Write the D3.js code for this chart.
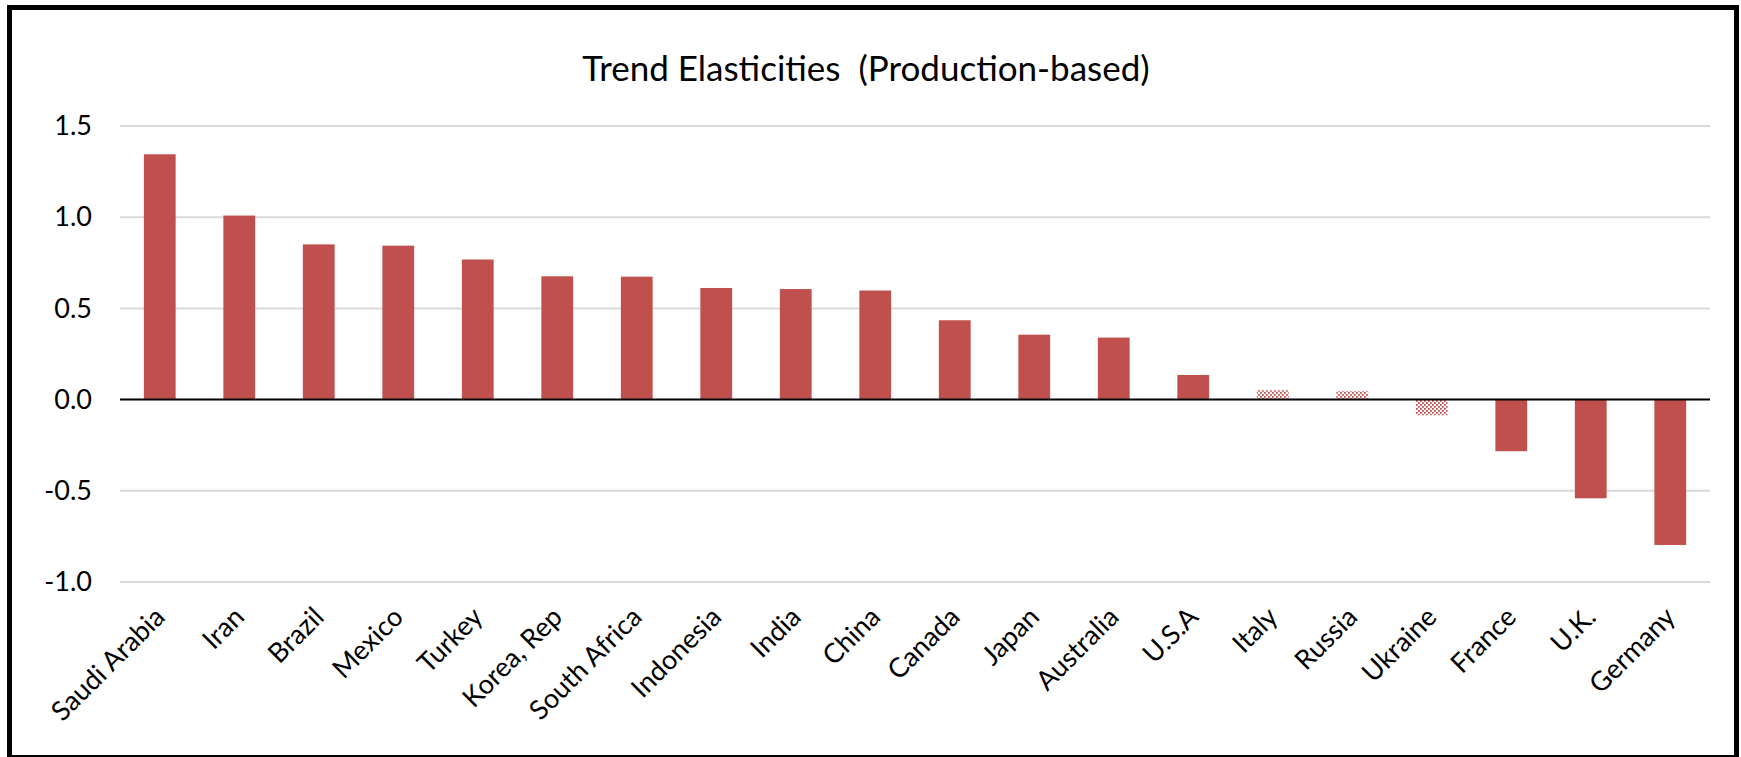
<!DOCTYPE html>
<html>
<head>
<meta charset="utf-8">
<script src="https://cdn.jsdelivr.net/npm/d3@7"></script>
<style>
  html, body { margin: 0; padding: 0; background: #fff; }
  svg { display: block; font-family: Lato, "Open Sans", sans-serif; }
</style>
</head>
<body>
<svg id="chart" width="1741" height="757"></svg>
<script>
// Trend elasticities by country (production-based)
const categories = ["Saudi Arabia", "Iran", "Brazil", "Mexico", "Turkey", "Korea, Rep",
  "South Africa", "Indonesia", "India", "China", "Canada", "Japan", "Australia",
  "U.S.A", "Italy", "Russia", "Ukraine", "France", "U.K.", "Germany"];
const values = [1.345, 1.009, 0.851, 0.844, 0.768, 0.676, 0.674, 0.612, 0.606, 0.598,
  0.435, 0.356, 0.340, 0.135, 0.051, 0.046, -0.086, -0.283, -0.541, -0.797];
// Countries whose estimate is drawn with a dotted fill
const dottedCountries = ["Italy", "Russia", "Ukraine"];
const yTicks = [-1.0, -0.5, 0.0, 0.5, 1.0, 1.5];
const titleText = "Trend Elasticities  (Production-based)";

const data = categories.map((c, i) => ({ country: c, value: values[i] }));

const svg = d3.select("#chart");
const W = 1741, H = 757;
const plot = { left: 120, right: 1710, top: 126, bottom: 582 };
const barColor = "#c0504d";

svg.append("rect").attr("width", W).attr("height", H).attr("fill", "#fff");

// dotted fill
const defs = svg.append("defs");
const pat = defs.append("pattern")
  .attr("id", "dots").attr("patternUnits", "userSpaceOnUse")
  .attr("width", 4).attr("height", 4);
pat.append("rect").attr("x", 0).attr("y", 0).attr("width", 1.8).attr("height", 1.8).attr("fill", barColor);
pat.append("rect").attr("x", 2).attr("y", 2).attr("width", 1.8).attr("height", 1.8).attr("fill", barColor);

const x = d3.scaleBand().domain(categories)
  .range([plot.left, plot.right]).paddingInner(0.6).paddingOuter(0.3);
const y = d3.scaleLinear().domain([-1.0, 1.5]).range([plot.bottom, plot.top]);

// gridlines
svg.append("g").selectAll("line").data(yTicks.filter(t => t !== 0)).join("line")
  .attr("x1", plot.left).attr("x2", plot.right)
  .attr("y1", d => y(d)).attr("y2", d => y(d))
  .attr("stroke", "#d9d9d9").attr("stroke-width", 2);

// y axis labels (plain hyphen for negatives)
const fmt = d3.formatLocale({ decimal: ".", thousands: ",", grouping: [3], currency: ["", ""], minus: "-" }).format(".1f");
const yAxis = d3.axisLeft(y).tickValues(yTicks).tickFormat(fmt).tickSize(0).tickPadding(0);
const gy = svg.append("g").attr("transform", `translate(92,0)`).call(yAxis);
gy.select(".domain").remove();
gy.selectAll("text").attr("font-size", 27).attr("fill", "#000")
  .attr("font-family", "Lato, sans-serif");

// bars
svg.append("g").selectAll("rect").data(data).join("rect")
  .attr("x", d => x(d.country))
  .attr("width", x.bandwidth())
  .attr("y", d => y(Math.max(0, d.value)))
  .attr("height", d => Math.abs(y(d.value) - y(0)))
  .attr("fill", d => dottedCountries.includes(d.country) ? "url(#dots)" : barColor);

// zero line
svg.append("line")
  .attr("x1", plot.left).attr("x2", plot.right)
  .attr("y1", y(0)).attr("y2", y(0))
  .attr("stroke", "#000").attr("stroke-width", 2);

// category labels
const xAxis = d3.axisBottom(x).tickSize(0).tickPadding(0);
const gx = svg.append("g").attr("transform", `translate(0,612)`).call(xAxis);
gx.select(".domain").remove();
gx.selectAll("text")
  .attr("font-size", 27).attr("fill", "#000").attr("font-family", "Lato, sans-serif")
  .attr("text-anchor", "end")
  .attr("y", 0).attr("dy", "0.35em")
  .attr("transform", "rotate(-45)");

// title
svg.append("text")
  .attr("x", 866).attr("y", 81)
  .attr("text-anchor", "middle")
  .attr("font-size", 35).attr("fill", "#000")
  .style("white-space", "pre")
  .text(titleText);

// frame
svg.append("rect")
  .attr("x", 9.5).attr("y", 7.5).attr("width", 1727).attr("height", 750)
  .attr("fill", "none").attr("stroke", "#000").attr("stroke-width", 5);
</script>
</body>
</html>
